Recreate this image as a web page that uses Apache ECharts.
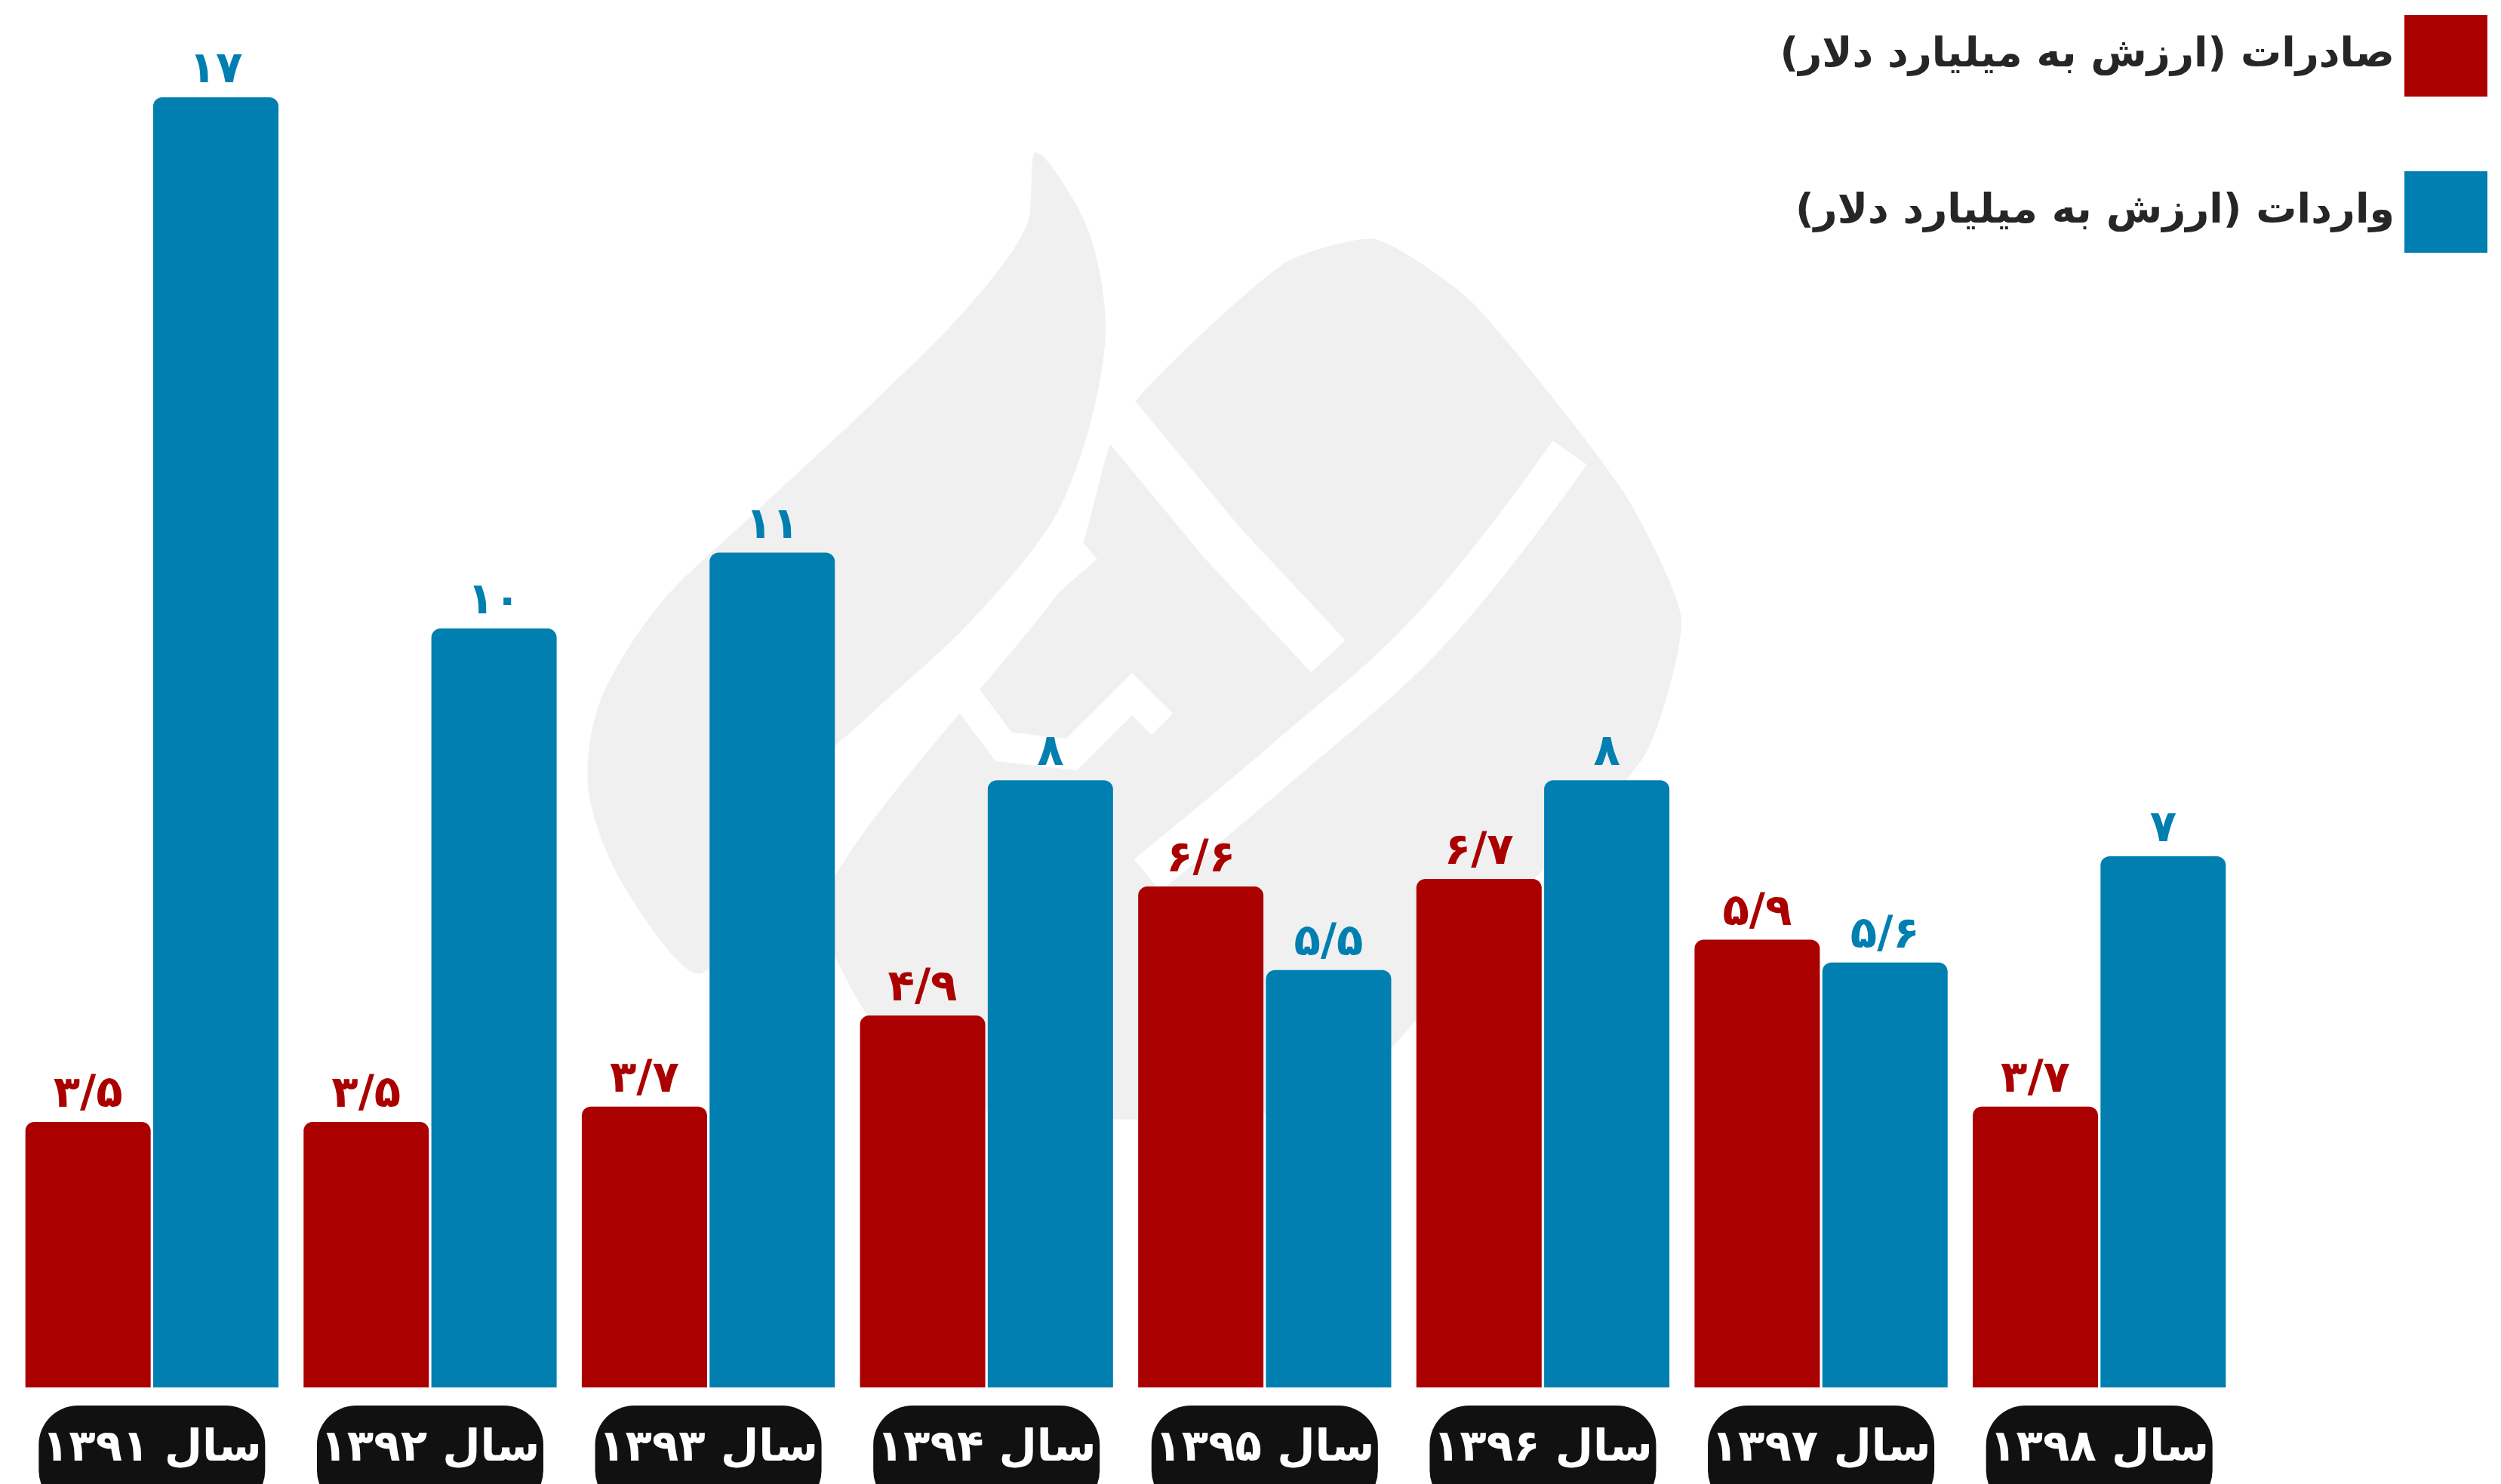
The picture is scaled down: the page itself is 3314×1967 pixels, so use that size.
<!DOCTYPE html>
<html dir="rtl">
<head>
<meta charset="utf-8">
<script src="https://cdn.jsdelivr.net/npm/echarts@6/dist/echarts.min.js"></script>
<style>
html,body{margin:0;padding:0;background:#fff;}
#chart{position:absolute;left:0;top:0;width:3314px;height:1967px;}
</style>
</head>
<body>
<div id="chart"></div>
<script>
const categories = ['سال ۱۳۹۱','سال ۱۳۹۲','سال ۱۳۹۳','سال ۱۳۹۴','سال ۱۳۹۵','سال ۱۳۹۶','سال ۱۳۹۷','سال ۱۳۹۸'];
const exportsValues = [3.5, 3.5, 3.7, 4.9, 6.6, 6.7, 5.9, 3.7];
const importsValues = [17, 10, 11, 8, 5.5, 8, 5.6, 7];
const exportsName = 'صادرات (ارزش به میلیارد دلار)';
const importsName = 'واردات (ارزش به میلیارد دلار)';

const FONT = "'DejaVu Sans', sans-serif";
const RED = '#AB0000';
const BLUE = '#007FB0';
const WM = '#f0f0f0';

function toFa(v) {
  const d = '۰۱۲۳۴۵۶۷۸۹';
  return String(v).replace(/[0-9]/g, c => d[+c]).replace('.', '/');
}

const chart = echarts.init(document.getElementById('chart'));
chart.setOption({
  backgroundColor: '#ffffff',
  animation: false,
  graphic: [
    { type: 'polygon', silent: true, z: -10, shape: { smooth: 0.3, points:
      [[1373,202],[1440,300],[1465,430],[1445,560],[1395,690],[1280,830],[1120,980],[1020,1110],[930,1290],[830,1180],[780,1050],[795,930],[875,800],[1000,680],[1150,540],[1280,410],[1360,300]] },
      style: { fill: WM } },
    { type: 'polygon', silent: true, z: -10, shape: { smooth: 0.2, points:
      [[1485,556],[1700,350],[1822,317],[1950,400],[2150,650],[2228,820],[2180,1000],[2000,1200],[1760,1460],[1250,1460],[1090,1200],[1420,760]] },
      style: { fill: WM } },
    { type: 'polyline', silent: true, z: -9, shape: { points: [[1440,725],[1108,1015],[980,1180]] },
      style: { stroke: '#fff', lineWidth: 42, fill: null } },
    { type: 'polyline', silent: true, z: -9, shape: { points: [[1475,545],[1620,720],[1760,870]] },
      style: { stroke: '#fff', lineWidth: 62, fill: null } },
    { type: 'polyline', silent: true, z: -9, shape: { smooth: 0.4, points: [[2080,600],[1900,830],[1700,1010],[1520,1160]] },
      style: { stroke: '#fff', lineWidth: 55, fill: null } },
    { type: 'polyline', silent: true, z: -9, shape: { points: [[1270,910],[1330,990],[1420,1000],[1500,920],[1540,960]] },
      style: { stroke: '#fff', lineWidth: 40, fill: null } }
  ],
  legend: {
    orient: 'vertical',
    right: 13,
    top: 15,
    itemWidth: 110,
    itemHeight: 108,
    itemGap: 99,
    align: 'right',
    icon: 'rect',
    textStyle: { fontFamily: FONT, fontWeight: 'bold', fontSize: 54, color: '#262626', padding: [0, 8, 0, 0] },
    data: [exportsName, importsName]
  },
  grid: { left: 17, right: 348, top: 129, bottom: 128, outerBoundsMode: 'none', containLabel: false },
  xAxis: {
    type: 'category',
    data: categories,
    axisLine: { show: false },
    axisTick: { show: false },
    axisLabel: {
      interval: 0,
      hideOverlap: false,
      margin: 24,
      fontFamily: FONT,
      fontWeight: 'bold',
      fontSize: 58,
      color: '#ffffff',
      backgroundColor: '#111111',
      borderRadius: 52,
      width: 252,
      lineHeight: 80,
      align: 'center',
      padding: [18, 24, 40, 24]
    }
  },
  yAxis: {
    type: 'value',
    min: 0,
    max: 17,
    show: false,
    splitLine: { show: false }
  },
  series: [
    {
      name: exportsName,
      type: 'bar',
      data: exportsValues,
      barWidth: 166,
      barGap: '2%',
      itemStyle: { color: RED, borderRadius: [12, 12, 0, 0] },
      label: {
        show: true, position: 'top', distance: 6,
        fontFamily: FONT, fontWeight: 'bold', fontSize: 58, color: RED,
        formatter: p => toFa(p.value)
      }
    },
    {
      name: importsName,
      type: 'bar',
      data: importsValues,
      barWidth: 166,
      barGap: '2%',
      itemStyle: { color: BLUE, borderRadius: [12, 12, 0, 0] },
      label: {
        show: true, position: 'top', distance: 6,
        fontFamily: FONT, fontWeight: 'bold', fontSize: 58, color: BLUE,
        formatter: p => toFa(p.value)
      }
    }
  ]
});
</script>
</body>
</html>
